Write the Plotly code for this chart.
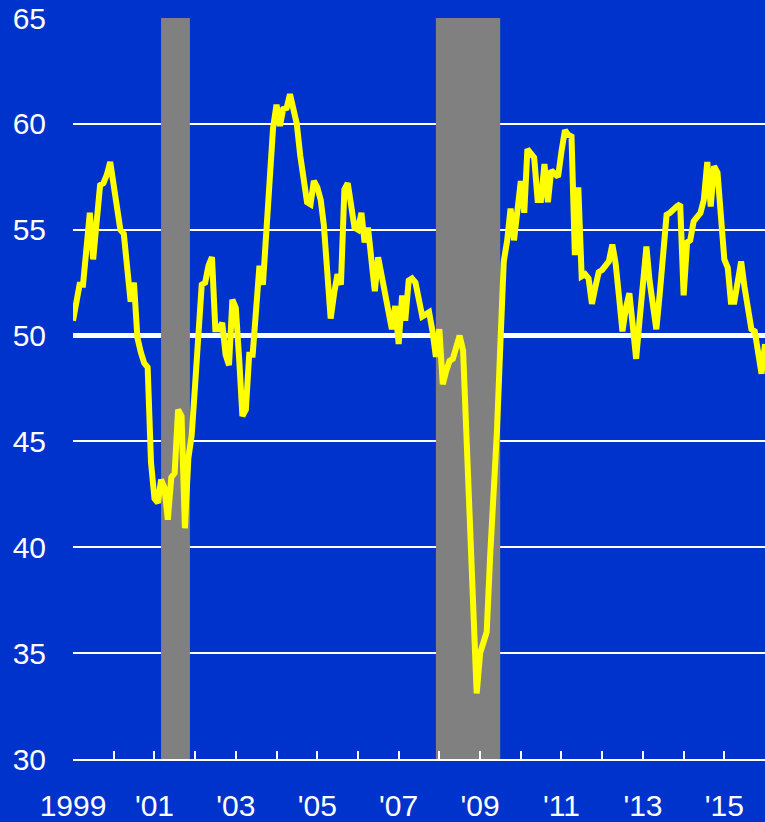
import plotly.graph_objects as go

# ISM manufacturing index, monthly, Jan 1999 .. Jan 2016
start_year = 1999
pmi = [
    # 1999
    50.7, 51.6, 52.4, 52.4, 54.1, 55.8, 53.6, 55.4, 57.1, 57.2, 57.6, 58.2,
    # 2000
    57.1, 56.0, 55.0, 54.8, 53.2, 51.6, 52.5, 49.9, 49.2, 48.7, 48.5, 44.0,
    # 2001
    42.3, 42.1, 43.2, 42.8, 41.3, 43.3, 43.5, 46.5, 46.2, 40.9, 44.2, 45.3,
    # 2002
    47.7, 50.5, 52.4, 52.5, 53.3, 53.7, 50.3, 50.3, 50.6, 49.1, 48.6, 51.7,
    # 2003
    51.3, 48.8, 46.2, 46.5, 49.1, 49.1, 51.2, 53.3, 52.4, 55.0, 57.5, 59.8,
    # 2004
    60.9, 59.9, 60.7, 60.75, 61.4, 60.7, 60.0, 58.5, 57.5, 56.3, 56.2, 57.3,
    # 2005
    57.0, 56.4, 55.2, 53.0, 50.8, 52.0, 52.9, 52.4, 56.9, 57.2, 56.2, 55.1,
    # 2006
    55.0, 55.8, 54.4, 55.1, 53.6, 52.1, 53.7, 52.8, 51.9, 51.2, 50.3, 51.4,
    # 2007
    49.6, 51.9, 50.7, 52.6, 52.7, 52.5, 51.8, 50.9, 51.0, 51.1, 50.2, 49.0,
    # 2008
    50.3, 47.7, 48.3, 48.8, 48.9, 49.5, 50.0, 49.3, 45.0, 40.8, 36.8, 33.1,
    # 2009
    35.0, 35.5, 36.0, 39.6, 42.0, 45.5, 49.5, 53.5, 54.5, 56.0, 54.5, 56.0,
    # 2010
    57.3, 55.8, 58.8, 58.6, 58.4, 56.4, 56.4, 58.1, 56.3, 57.8, 57.6, 57.5,
    # 2011
    58.7, 59.7, 59.5, 59.4, 53.8, 57.0, 52.8, 52.9, 52.7, 51.5, 52.3, 53.0,
    # 2012
    53.1, 53.3, 53.5, 54.3, 53.4, 51.8, 50.2, 51.3, 52.0, 50.5, 48.9, 50.7,
    # 2013
    52.6, 54.2, 52.6, 51.2, 50.3, 52.0, 54.0, 55.7, 55.8, 56.0, 56.1, 56.2,
    # 2014
    51.9, 54.4, 54.5, 55.4, 55.6, 55.8, 56.4, 58.2, 56.1, 58.0, 57.7, 55.6,
    # 2015
    53.6, 53.2, 51.6, 51.6, 52.8, 53.5, 52.3, 51.1, 50.3, 50.2, 49.2, 48.2,
    # 2016
    49.6,
]
dates = [f"{start_year + i // 12}-{i % 12 + 1:02d}-01" for i in range(len(pmi))]

recession_start = ["2001-03-01", "2007-12-01"]
recession_end = ["2001-11-15", "2009-06-30"]

tick_years = list(range(1999, 2017))
tick_vals = [f"{y}-01-01" for y in tick_years]
tick_text = ["1999", "", "'01", "", "'03", "", "'05", "", "'07", "", "'09", "",
             "'11", "", "'13", "", "'15", ""]
y_ticks = [30, 35, 40, 45, 50, 55, 60, 65]
threshold = 50

BLUE = "#0033CC"
fig = go.Figure()
fig.add_trace(go.Scatter(x=dates, y=pmi, mode="lines",
                         line=dict(color="#FFFF00", width=6),
                         hoverinfo="skip", showlegend=False))

shapes = []
for s, e in zip(recession_start, recession_end):
    shapes.append(dict(type="rect", xref="x", yref="y", x0=s, x1=e, y0=30, y1=65,
                       fillcolor="#808080", line=dict(width=0), layer="between"))
shapes.append(dict(type="line", xref="paper", yref="y", x0=0, x1=1,
                   y0=threshold, y1=threshold,
                   line=dict(color="white", width=5), layer="between"))

fig.update_layout(
    width=765, height=822,
    autosize=False,
    margin=dict(l=73, r=0, t=18, b=63, pad=0, autoexpand=False),
    paper_bgcolor=BLUE, plot_bgcolor=BLUE,
    font=dict(family="Liberation Sans, Arial, sans-serif", color="white", size=30),
    shapes=shapes,
    showlegend=False,
    xaxis=dict(type="date", range=["1999-01-01", "2016-01-01"],
               tickvals=tick_vals, ticktext=tick_text,
               ticks="inside", ticklen=8, tickwidth=2, tickcolor="white",
               showline=True, linecolor="white", linewidth=2,
               showgrid=False, zeroline=False, automargin=False,
               tickfont=dict(size=30, color="white"),
               ticklabelstandoff=19),
    yaxis=dict(range=[30, 65], tickvals=y_ticks,
               showgrid=True, gridcolor="white", gridwidth=2,
               zeroline=False, showline=False, ticks="", automargin=False,
               tickfont=dict(size=30, color="white"),
               ticklabelstandoff=26),
)

fig.write_html("out.html",
               config={"displayModeBar": False},
               post_script="document.body.style.margin='0';document.body.style.overflow='hidden';")
